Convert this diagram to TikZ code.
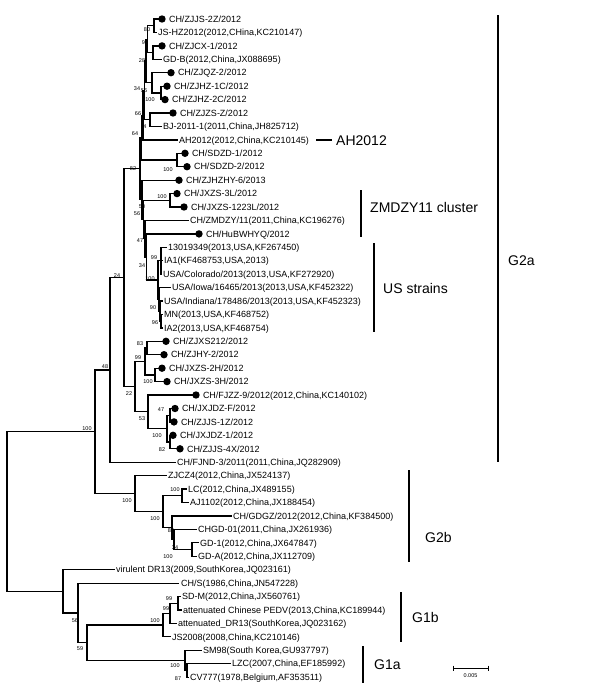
\documentclass[tikz,border=0pt]{standalone}
\usepackage{fontspec}
\setmainfont{Liberation Sans}
\newcommand\LeafD[4]{\coordinate (#1) at (#2,#3);\node[leaf] (#1t) at (#2+6.8,#3) {#4};}
\newcommand\LeafP[5]{\coordinate (#1) at (#2,#3);\node[leaf] (#1t) at (#4,#3) {#5};}
\newcommand\Boot[4]{\node[boot] (#1) at (#2,#3) {#4};}
\begin{document}
\begin{tikzpicture}[x=1pt,y=-1pt,
  tree/.style={line width=1.2pt, line cap=rect, line join=miter},
  leaf/.style={anchor=base west, inner sep=0pt, font=\fontsize{9}{10}\selectfont, yshift=-3.2pt},
  boot/.style={anchor=base, inner sep=0pt, font=\fontsize{5.5}{6}\selectfont, yshift=-2pt},
  dotm/.style={circle, fill=black, inner sep=0pt, minimum size=7.4pt},
  grp/.style={anchor=base west, inner sep=0pt, font=\fontsize{14}{16}\selectfont, yshift=-5pt},
  bar/.style={line width=2.4pt}]
\useasboundingbox (0,0) rectangle (600,691);
% ---------- leaves ----------
\LeafD{l1}{162}{19}{CH/ZJJS-2Z/2012}
\LeafP{l2}{156}{32.4}{158}{JS-HZ2012(2012,CHina,KC210147)}
\LeafD{l3}{162}{45.9}{CH/ZJCX-1/2012}
\LeafP{l4}{161}{59.3}{163}{GD-B(2012,China,JX088695)}
\LeafD{l5}{171}{72.7}{CH/ZJQZ-2/2012}
\LeafD{l6}{167}{86.2}{CH/ZJHZ-1C/2012}
\LeafD{l7}{165}{99.6}{CH/ZJHZ-2C/2012}
\LeafD{l8}{173}{113.0}{CH/ZJZS-Z/2012}
\LeafP{l9}{161}{126.4}{163}{BJ-2011-1(2011,China,JH825712)}
\LeafP{l10}{177}{139.9}{179}{AH2012(2012,China,KC210145)}
\LeafD{l11}{185}{153.3}{CH/SDZD-1/2012}
\LeafD{l12}{187}{166.7}{CH/SDZD-2/2012}
\LeafD{l13}{179}{180.2}{CH/ZJHZHY-6/2013}
\LeafD{l14}{177}{193.6}{CH/JXZS-3L/2012}
\LeafD{l15}{184}{207.0}{CH/JXZS-1223L/2012}
\LeafP{l16}{188}{220.5}{190}{CH/ZMDZY/11(2011,China,KC196276)}
\LeafD{l17}{199}{233.9}{CH/HuBWHYQ/2012}
\LeafP{l18}{166}{247.3}{168}{13019349(2013,USA,KF267450)}
\LeafP{l19}{162}{260.7}{164}{IA1(KF468753,USA,2013)}
\LeafP{l20}{161}{274.2}{163}{USA/Colorado/2013(2013,USA,KF272920)}
\LeafP{l21}{170}{287.6}{172}{USA/Iowa/16465/2013(2013,USA,KF452322)}
\LeafP{l22}{162}{301.0}{164}{USA/Indiana/178486/2013(2013,USA,KF452323)}
\LeafP{l23}{162}{314.5}{164}{MN(2013,USA,KF468752)}
\LeafP{l24}{162}{327.9}{164}{IA2(2013,USA,KF468754)}
\LeafD{l25}{166}{341.3}{CH/ZJXS212/2012}
\LeafD{l26}{164}{354.7}{CH/ZJHY-2/2012}
\LeafD{l27}{162}{368.2}{CH/JXZS-2H/2012}
\LeafD{l28}{167}{381.6}{CH/JXZS-3H/2012}
\LeafD{l29}{196}{395.0}{CH/FJZZ-9/2012(2012,China,KC140102)}
\LeafD{l30}{175}{408.5}{CH/JXJDZ-F/2012}
\LeafD{l31}{174}{421.9}{CH/ZJJS-1Z/2012}
\LeafD{l32}{173}{435.3}{CH/JXJDZ-1/2012}
\LeafD{l33}{180}{448.8}{CH/ZJJS-4X/2012}
\LeafP{l34}{175}{462.2}{177}{CH/FJND-3/2011(2011,China,JQ282909)}
\LeafP{l35}{166}{475.6}{168}{ZJCZ4(2012,China,JX524137)}
\LeafP{l36}{186}{489.0}{188}{LC(2012,China,JX489155)}
\LeafP{l37}{188}{502.5}{190}{AJ1102(2012,China,JX188454)}
\LeafP{l38}{231}{515.9}{233}{CH/GDGZ/2012(2012,China,KF384500)}
\LeafP{l39}{196}{529.3}{198}{CHGD-01(2011,China,JX261936)}
\LeafP{l40}{198}{542.8}{200}{GD-1(2012,China,JX647847)}
\LeafP{l41}{196}{556.2}{198}{GD-A(2012,China,JX112709)}
\LeafP{l42}{114}{569.6}{116}{virulent DR13(2009,SouthKorea,JQ023161)}
\LeafP{l43}{178}{583.1}{181}{CH/S(1986,China,JN547228)}
\LeafP{l44}{180}{596.5}{182}{SD-M(2012,China,JX560761)}
\LeafP{l45}{181}{609.9}{183}{attenuated Chinese PEDV(2013,China,KC189944)}
\LeafP{l46}{176}{623.3}{178}{attenuated\_DR13(SouthKorea,JQ023162)}
\LeafP{l47}{170}{636.8}{172}{JS2008(2008,China,KC210146)}
\LeafP{l48}{201}{650.2}{203}{SM98(South Korea,GU937797)}
\LeafP{l49}{230}{663.6}{232}{LZC(2007,China,EF185992)}
\LeafP{l50}{188}{677.1}{190}{CV777(1978,Belgium,AF353511)}
% ---------- internal nodes ----------
\coordinate (root) at (7,511.5);
\coordinate (nG2) at (95,431.8);
\coordinate (n48) at (110,369.9);
\coordinate (n24) at (124,277.65);
\coordinate (n82) at (140,168.7);
\coordinate (n64) at (141.5,137.6);
\coordinate (n66) at (143,115.1);
\coordinate (n34a) at (144.5,90.35);
\coordinate (n28) at (146,61.0);
\coordinate (n93) at (147.5,39.15);
\coordinate (n80) at (154,25.7);
\coordinate (nX) at (153,52.6);
\coordinate (nQZ) at (152,82.8);
\coordinate (n100a) at (161,92.9);
\coordinate (n4) at (150,119.7);
\coordinate (nSD) at (177,160);
\coordinate (n50) at (142,199.85);
\coordinate (n56) at (143.5,219.5);
\coordinate (n100b) at (170,200.3);
\coordinate (n47) at (145,238.75);
\coordinate (n34b) at (146.5,257);
\coordinate (n100US) at (158,280.05);
\coordinate (n99US) at (161,260.75);
\coordinate (nUS2) at (159,299.35);
\coordinate (n90) at (160,311.1);
\coordinate (n96) at (161,321.2);
\coordinate (n22) at (135,386.6);
\coordinate (n99c) at (145,361.45);
\coordinate (n83) at (147,348);
\coordinate (n100c) at (155,374.9);
\coordinate (n53) at (148,411.8);
\coordinate (nA) at (167,428.6);
\coordinate (nX2) at (170,415.2);
\coordinate (nY2) at (170,442.05);
\coordinate (nG2b) at (135,493.65);
\coordinate (nE) at (163,511.7);
\coordinate (n100f) at (182,495.75);
\coordinate (n80b) at (172,527.65);
\coordinate (n100x) at (174,539.4);
\coordinate (n34gd) at (192,549.5);
\coordinate (nG1) at (63,591.25);
\coordinate (n56g) at (78,612.9);
\coordinate (n59) at (87,642.65);
\coordinate (n100G1b) at (163,625);
\coordinate (n99b) at (170,613.25);
\coordinate (n99a) at (178,603.2);
\coordinate (n100G1a) at (185,660.3);
\coordinate (n87) at (187,670.35);
% ---------- branches ----------
\foreach \p/\c in {root/nG2,root/nG1,nG2/n48,nG2/nG2b,n48/n24,n48/l34,n24/n82,n24/n22,
  n82/n64,n82/n50,n64/n66,n64/nSD,n66/n34a,n66/l10,n34a/n28,n34a/n4,n28/n93,n28/nQZ,
  n93/n80,n93/nX,n80/l1,n80/l2,nX/l3,nX/l4,nQZ/l5,nQZ/n100a,n100a/l6,n100a/l7,n4/l8,n4/l9,
  nSD/l11,nSD/l12,n50/l13,n50/n56,n56/n100b,n56/n47,n100b/l14,n100b/l15,n47/l16,n47/n34b,
  n34b/l17,n34b/n100US,n100US/n99US,n100US/nUS2,n99US/l18,n99US/l19,n99US/l20,nUS2/l21,
  nUS2/n90,n90/l22,n90/n96,n96/l23,n96/l24,n22/n99c,n22/n53,n99c/n83,n99c/n100c,n83/l25,
  n83/l26,n100c/l27,n100c/l28,n53/l29,n53/nA,nA/nX2,nA/nY2,nX2/l30,nX2/l31,nY2/l32,nY2/l33,
  nG2b/l35,nG2b/nE,nE/n100f,nE/n80b,n100f/l36,n100f/l37,n80b/l38,n80b/n100x,n100x/l39,
  n100x/n34gd,n34gd/l40,n34gd/l41,nG1/l42,nG1/n56g,n56g/l43,n56g/n59,n59/n100G1b,
  n59/n100G1a,n100G1b/n99b,n100G1b/l47,n99b/n99a,n99b/l46,n99a/l44,n99a/l45,
  n100G1a/l48,n100G1a/n87,n87/l49,n87/l50}
  \draw[tree] (\p) |- (\c);
% ---------- dots ----------
\foreach \d in {l1,l3,l5,l6,l7,l8,l11,l12,l13,l14,l15,l17,l25,l26,l27,l28,l29,l30,l31,l32,l33}
  \node[dotm] (d\d) at (\d) {};
% ---------- bootstrap values ----------
\Boot{b1}{147}{29}{80}
\Boot{b2}{145}{42}{93}
\Boot{b3}{142}{60}{28}
\Boot{b4}{137}{88}{34}
\Boot{b5}{144}{90}{56}
\Boot{b6}{150}{99}{100}
\Boot{b7}{138}{113}{66}
\Boot{b8}{145}{126}{4}
\Boot{b9}{135}{133}{64}
\Boot{b10}{133}{168}{82}
\Boot{b11}{168}{169}{100}
\Boot{b12}{162}{196}{100}
\Boot{b13}{142}{206}{50}
\Boot{b14}{137}{213}{56}
\Boot{b15}{140}{240}{47}
\Boot{b16}{154}{257}{99}
\Boot{b17}{142}{265}{34}
\Boot{b18}{150}{278}{100}
\Boot{b19}{153}{307}{90}
\Boot{b20}{155}{322}{96}
\Boot{b21}{140}{343}{83}
\Boot{b22}{138}{357}{99}
\Boot{b23}{148}{381}{100}
\Boot{b24}{129}{393}{22}
\Boot{b25}{117}{275}{24}
\Boot{b26}{105}{366}{48}
\Boot{b27}{87}{428}{100}
\Boot{b28}{161}{409}{47}
\Boot{b29}{142}{418}{53}
\Boot{b30}{157}{435}{100}
\Boot{b31}{162}{449}{82}
\Boot{b32}{127}{500}{100}
\Boot{b33}{175}{489}{100}
\Boot{b34}{155}{518}{100}
\Boot{b35}{171}{530}{80}
\Boot{b36}{175}{547}{34}
\Boot{b37}{168}{556}{100}
\Boot{b38}{75}{620}{56}
\Boot{b39}{80}{648}{59}
\Boot{b40}{169}{598}{99}
\Boot{b41}{166}{608}{99}
\Boot{b42}{155}{620}{100}
\Boot{b43}{175}{665}{100}
\Boot{b44}{178}{678}{87}
% ---------- group bars ----------
\coordinate (g2aT) at (498,15);  \coordinate (g2aB) at (498,462);
\draw[bar] (g2aT) -- (g2aB);
\node[grp] (g2a) at (508,260) {G2a};
\coordinate (ahL) at (316,140); \coordinate (ahR) at (332,140);
\draw[bar] (ahL) -- (ahR);
\node[grp] (ah) at (336,140) {AH2012};
\coordinate (zmT) at (361,190); \coordinate (zmB) at (361,237);
\draw[bar] (zmT) -- (zmB);
\node[grp] (zm) at (370,207) {ZMDZY11 cluster};
\coordinate (usT) at (374,243); \coordinate (usB) at (374,332);
\draw[bar] (usT) -- (usB);
\node[grp] (us) at (383,288) {US strains};
\coordinate (g2bT) at (409,470); \coordinate (g2bB) at (409,562);
\draw[bar] (g2bT) -- (g2bB);
\node[grp] (g2b) at (425,537) {G2b};
\coordinate (g1bT) at (401,592); \coordinate (g1bB) at (401,642);
\draw[bar] (g1bT) -- (g1bB);
\node[grp] (g1b) at (412,617) {G1b};
\coordinate (g1aT) at (363,646); \coordinate (g1aB) at (363,683);
\draw[bar] (g1aT) -- (g1aB);
\node[grp] (g1a) at (374,664) {G1a};
% ---------- scale bar ----------
\coordinate (sb1) at (453,668); \coordinate (sb2) at (488,668);
\draw[line width=0.8pt] (sb1) -- (sb2);
\draw[line width=0.8pt] ([yshift=2.5pt]sb1) -- ([yshift=-2.5pt]sb1);
\draw[line width=0.8pt] ([yshift=2.5pt]sb2) -- ([yshift=-2.5pt]sb2);
\node[boot] (sbl) at (470.5,675) {0.005};
\end{tikzpicture}
\end{document}
